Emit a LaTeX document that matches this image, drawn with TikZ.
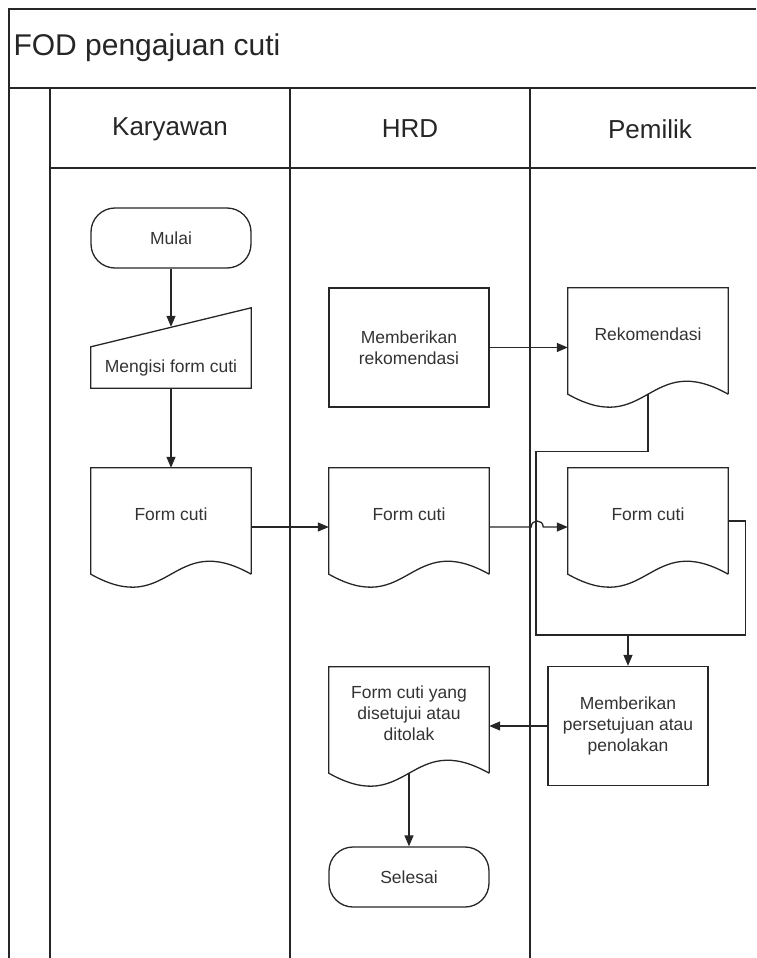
\documentclass[tikz,border=0pt]{standalone}
\usepackage{fontspec}
\setmainfont{Liberation Sans}
\usetikzlibrary{arrows.meta,positioning}

\newcommand{\boxfont}{\fontsize{17.5}{21}\selectfont}
% outline of a document symbol (wavy bottom)
\newcommand{\docline}[1]{%
  \draw[outline] (#1.south east) -- (#1.north east) -- (#1.north west) -- (#1.south west)
    .. controls +(80,45) and +(-80,-45) .. (#1.south east);}
% outline of a manual input symbol (slanted top)
\newcommand{\maninline}[1]{%
  \draw[outline] (#1.south west) -- (#1.north west) -- ([yshift=39pt]#1.north east)
    -- (#1.south east) -- cycle;}

\begin{document}
\begin{tikzpicture}[x=1pt,y=-1pt,on grid,
    >={Triangle[length=11pt,width=9pt]},
    outline/.style={line width=1.3pt,draw=black!85},
    lane/.style={line width=1.6pt,draw=black!85},
    conn/.style={line width=1.3pt,draw=black!85},
    box/.style={minimum width=160pt,inner sep=2pt,align=center,font=\boxfont,text=black!80},
    term/.style={box,outline,rounded corners=24pt,minimum height=60pt},
    proc/.style={box,outline,minimum height=119pt},
    doc/.style={box,minimum height=106pt,text depth=14pt},
    manin/.style={box,minimum height=41pt},
    head/.style={font=\fontsize{26}{30}\selectfont,text=black!85}]
  \useasboundingbox (0,0) rectangle (756,958);

  % frame and swimlanes
  \draw[lane] (9,958) -- (9,9) -- (756,9);
  \draw[lane] (9,88) -- (756,88);
  \draw[lane] (50,168) -- (756,168);
  \foreach \x in {50,290,530}
    \draw[lane] (\x,88) -- (\x,958);
  \node[font=\fontsize{30}{34}\selectfont,text=black!85,anchor=west] (judul) at (10,48) {FOD pengajuan cuti};
  \node[head] (hk) at (170,129) {Karyawan};
  \node[head] (hh) at (410,129) {HRD};
  \node[head] (hp) at (650,129) {Pemilik};

  % Karyawan
  \node[term] (mulai) at (171,238) {Mulai};
  \node[manin] (isi) [below=129.5pt of mulai] {Mengisi form cuti};
  \node[doc] (formK) [below=153.5pt of isi] {Form cuti};
  % HRD
  \node[doc] (formH) [right=238pt of formK] {Form cuti};
  \node[proc] (rekom) [above=173.5pt of formH] {Memberikan\\rekomendasi};
  \node[doc] (hasil) [below=199pt of formH] {Form cuti yang\\disetujui atau\\ditolak};
  \node[term] (selesai) [below=157pt of hasil] {Selesai};
  % Pemilik
  \node[doc] (rekdoc) at (648,341) {Rekomendasi};
  \node[doc] (formP) [below=180pt of rekdoc] {Form cuti};
  \node[proc] (setuju) at (628,726) {Memberikan\\persetujuan atau\\penolakan};

  \maninline{isi}
  \docline{formK}
  \docline{formH}
  \docline{hasil}
  \docline{rekdoc}
  \docline{formP}

  \coordinate (merge) at ([yshift=31pt]setuju.north);

  \draw[conn,->] (mulai) -- ([yshift=20pt]isi.north);
  \draw[conn,->] (isi) -- (formK);
  \draw[conn,->] ([yshift=-6pt]formK.east) -- ([yshift=-6pt]formH.west);
  \draw[conn,->] (rekom.east) -- (rekom.east -| rekdoc.west);
  \draw[conn,->] ([yshift=-6pt]formH.east) -- ++(42,0)
    .. controls +(0,-8) and +(0,-8) .. ++(12,0) -- ([yshift=-6pt]formP.west);
  \draw[conn] (rekdoc.south) -- ++(0,57) -- ++(-112,0) |- (merge);
  \draw[conn] (formP.east) -- ++(17,0) |- (merge);
  \draw[conn,->] (merge) -- (setuju);
  \draw[conn,->] (setuju.west) -- (setuju.west -| hasil.east);
  \draw[conn,->] (hasil) -- (selesai);
\end{tikzpicture}
\end{document}
